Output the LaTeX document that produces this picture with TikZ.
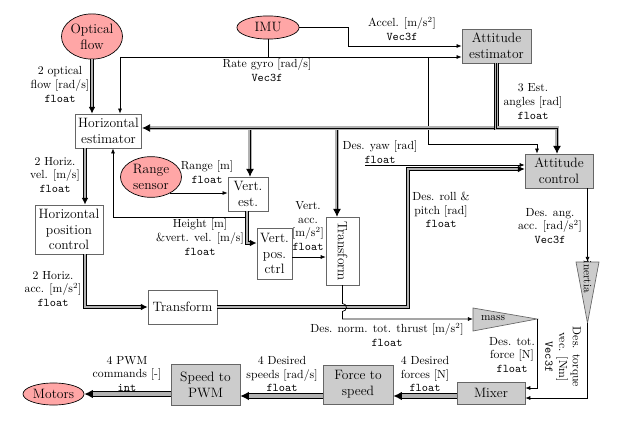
\documentclass[tikz,border=0pt]{standalone}
\usetikzlibrary{arrows.meta,shapes.geometric,calc}
\begin{document}
\begin{tikzpicture}[x=0.885pt,y=-0.885pt,
  box/.style={draw=black!60, fill=white, font=\large, align=center, inner sep=1.5pt, line width=0.6pt},
  gbox/.style={box, fill=gray!40},
  ell/.style={ellipse, draw, line width=0.6pt, fill=red!35, font=\large, align=center, inner sep=0pt},
  tri/.style={draw=black!60, fill=gray!40, line width=0.6pt},
  lab/.style={align=center, inner sep=1pt, font=\fontsize{10.4}{12.2}\selectfont},
  plain/.style={draw, line width=0.6pt},
  one/.style={draw, line width=0.6pt, -{Latex[length=4.5pt,width=3.5pt]}},
  two/.style={draw=gray!60, line width=1.5pt, -{Latex[length=6pt,width=6pt,color=black]},
    preaction={draw=black, -, line width=3.2pt, shorten >=5pt}},
  three/.style={draw=black, line width=0.7pt, -{Latex[length=7pt,width=7pt]},
    preaction={draw=black, -, line width=4.2pt, shorten >=6pt},
    preaction={draw=gray!60, -, line width=2.8pt, shorten >=6pt}},
  four/.style={draw=gray!60, line width=1.1pt, -{Latex[length=7.5pt,width=7.5pt,color=black]},
    preaction={draw=black, -, line width=5pt, shorten >=6.5pt},
    preaction={draw=gray!60, -, line width=3.7pt, shorten >=6.5pt},
    preaction={draw=black, -, line width=2.3pt, shorten >=6.5pt}}
]
\useasboundingbox (0,0) rectangle (627,427);

% nodes
\node[ell, minimum width=54pt, minimum height=40pt] (oflow) at (92,36.5) {Optical\\flow};
\node[ell, minimum width=55pt, minimum height=20.5pt] (imu) at (268,27.5) {IMU};
\node[gbox, minimum width=61pt, minimum height=30pt] (attest) at (496.5,46) {Attitude\\estimator};
\node[box, minimum width=59pt, minimum height=30pt] (hest) at (108.5,131) {Horizontal\\estimator};
\node[ell, minimum width=54pt, minimum height=36pt] (range) at (151,177) {Range\\sensor};
\node[box, minimum width=35.4pt, minimum height=30pt] (vest) at (248,194) {Vert.\\est.};
\node[box, minimum width=60pt, minimum height=43.4pt] (hpc) at (69,229.5) {Horizontal\\position\\control};
\node[box, minimum width=31pt, minimum height=45pt] (vpc) at (274.5,253.5) {Vert.\\pos.\\ctrl};
\node[box, rotate=-90, minimum width=60pt, minimum height=29pt] (tfv) at (342.5,251) {Transform};
\node[gbox, minimum width=60pt, minimum height=30pt] (attctl) at (559,171) {Attitude\\control};
\node[box, minimum width=61pt, minimum height=30pt] (tfh) at (182.5,307) {Transform};
\node[gbox, minimum width=60pt, minimum height=19.5pt] (mixer) at (491,393) {Mixer};
\node[gbox, minimum width=62pt, minimum height=34.5pt] (f2s) at (358,384.5) {Force to\\speed};
\node[gbox, minimum width=61pt, minimum height=36pt] (s2p) at (205.5,384.5) {Speed to\\PWM};
\node[ell, minimum width=54pt, minimum height=19.5pt] (motors) at (53.5,394) {Motors};

% triangles
\draw[tri] (576,262) -- (599,262) -- (587.5,323) -- cycle;
\node[rotate=-90, inner sep=0pt] (inertia) at (587.5,277) {inertia};
\coordinate (inTop) at (587.5,262);
\coordinate (inTip) at (587.5,323);
\draw[tri] (473,308) -- (537,319) -- (473,331) -- cycle;
\node[inner sep=0pt] (mass) at (493,318) {mass};
\coordinate (massIn) at (473,319);
\coordinate (massTip) at (537,319);

% optical flow -> horizontal estimator
\draw[two] (oflow.south) -- (oflow.south |- hest.north);

% accel
\coordinate (acc1) at (348,27.5);
\draw[one] (imu.east) -- (acc1) |- (attest.west);

% rate gyro
\coordinate (gj) at (268,57);
\coordinate (gl) at (120,57);
\coordinate (gr) at (428,57);
\coordinate (gyc) at (537,144);
\draw[plain] (imu.south) -- (gj);
\draw[one] (gl) -- (attest.west |- gl);
\draw[one] (gl) -- (gl |- hest.north);
\draw[one] (gr) |- (gyc) -- (gyc |- attctl.north);

% estimated angles bus
\coordinate (ej) at (496.5,128);
\coordinate (ek) at (557,128);
\coordinate (eb1) at (250,128);
\coordinate (eb2) at (337,128);
\draw[three] (eb1) -- (eb1 |- vest.north);
\draw[three] (eb2) -- (eb2 |- tfv.west);
\draw[three] (ej) -- (ej -| hest.east);
\draw[three] (attest.south) -- (ej) -- (ek) -- (ek |- attctl.north);

% horizontal chain
\coordinate (hx) at (85,0);
\draw[two] (hx |- hest.south) -- (hx |- hpc.north);
\draw[two] (hx |- hpc.south) |- (tfh.west);
\coordinate (rp) at (408,169);
\draw[two] (tfh.east) -| (rp) -- (rp -| attctl.west);

% desired yaw
\coordinate (yaw) at (365,165);
\draw[one] (yaw) -- (yaw -| attctl.west);

% range sensor
\coordinate (rs) at (170,193);
\draw[one] (rs) -- (rs -| vest.west);

% height feedback
\coordinate (vx) at (247,0);
\coordinate (hx2) at (113,217);
\draw[one] (vx |- vest.south) |- (hx2) -- (hx2 |- hest.south);
\coordinate (vp) at (247,243);
\draw[two] (vx |- vest.south) |- (vp -| vpc.west);

% vertical acc
\coordinate (va) at (292,257);
\draw[one] (va) -- (va -| tfv.south);

% thrust with jump
\coordinate (th1) at (342.5,303.5);
\coordinate (th2) at (342.5,319);
\draw[one] (tfv.east) -- (th1) arc[start angle=90, end angle=-90, radius=3.5pt] -- (th2) -- (massIn);

% mass -> mixer
\coordinate (mm) at (537,388);
\draw[one] (massTip) -- (mm) -- (mm -| mixer.east);

% attitude control -> inertia -> mixer
\draw[one] (attctl.south -| inTop) -- (inTop);
\coordinate (im) at (587.5,398);
\draw[one] (inTip) -- (im) -- (im -| mixer.east);

% bottom chain
\coordinate (mf) at (457,396);
\draw[four] (mixer.west |- mf) -- (f2s.east |- mf);
\draw[four] (f2s.west |- mf) -- (s2p.east |- mf);
\draw[four] (s2p.west |- motors.east) -- (motors.east);

% labels
\node[lab] at (60,84.5) {2 optical\\flow [rad/s]\\\texttt{float}};
\node[lab] at (267,70) {Rate gyro [rad/s]\\\texttt{Vec3f}};
\node[lab] at (402,29) {Accel. [m/s$^2$]\\\texttt{Vec3f}};
\node[lab] at (533,101.5) {3 Est.\\angles [rad]\\\texttt{float}};
\node[lab] at (55,175) {2 Horiz.\\vel. [m/s]\\\texttt{float}};
\node[lab] at (207,172) {Range [m]\\\texttt{float}};
\node[lab] at (200,237) {Height [m]\\\&vert. vel. [m/s]\\\texttt{float}};
\node[lab] at (308,226) {Vert.\\acc.\\{[m/s$^2$]}\\\texttt{float}};
\node[lab] at (53,289) {2 Horiz.\\acc. [m/s$^2$]\\\texttt{float}};
\node[lab] at (380,152) {Des. yaw [rad]\\\texttt{float}};
\node[lab] at (441,210) {Des. roll \&\\pitch [rad]\\\texttt{float}};
\node[lab] at (550,226) {Des. ang.\\acc. [rad/s$^2$]\\\texttt{Vec3f}};
\node[lab] at (387,335) {Des. norm. tot. thrust [m/s$^2$]\\\texttt{float}};
\node[lab] at (512,355) {Des. tot.\\force [N]\\\texttt{float}};
\node[lab, rotate=-90] at (563,357) {Des. torque\\vec. [Nm]\\\texttt{Vec3f}};
\node[lab] at (425,374) {4 Desired\\forces [N]\\\texttt{float}};
\node[lab] at (282,374) {4 Desired\\speeds [rad/s]\\\texttt{float}};
\node[lab] at (127,374) {4 PWM\\commands [-]\\\texttt{int}};
\end{tikzpicture}
\end{document}
